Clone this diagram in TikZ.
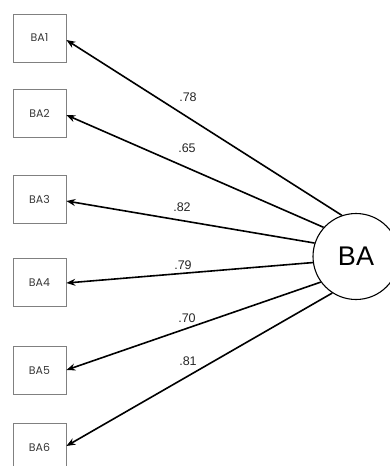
\documentclass[tikz,border=0pt]{standalone}
\usepackage{fontspec}
\setmainfont{Liberation Sans}
\newfontfamily\boxfont{Poppins}
\usetikzlibrary{arrows.meta}
\begin{document}
\begin{tikzpicture}[x=1pt,y=-1pt,
  itembox/.style={draw=black!50,line width=0.8pt,minimum width=53pt,minimum height=48pt,
    inner sep=0pt,font=\boxfont\fontsize{11}{13}\selectfont,text=black!78},
  factor/.style={circle,draw,line width=1.1pt,minimum size=86pt,inner sep=0pt,
    font=\fontsize{27}{30}\selectfont},
  load/.style={-{Stealth[length=9pt,width=7pt]},line width=1.6pt},
  coef/.style={font=\fontsize{12.5}{14}\selectfont,text=black!85}]
\useasboundingbox (0,0) rectangle (390,466);
\begin{scope}
\clip (0,0) rectangle (390,466);
\node[itembox] (b1) at (39.5,38) {BA1};
\node[itembox] (b2) at (39.5,113.5) {BA2};
\node[itembox] (b3) at (39.5,199.5) {BA3};
\node[itembox] (b4) at (39.5,282.5) {BA4};
\node[itembox] (b5) at (39.5,370.5) {BA5};
\node[itembox] (b6) at (39.5,447) {BA6};
\node[factor] (ba) at (356,256.5) {BA};
\end{scope}
\draw[load] (ba.109) -- (b1.east |- 0,40);
\draw[load] (ba.138) -- (b2.east |- 0,115);
\draw[load] (ba.162) -- (b3.east |- 0,201);
\draw[load] (ba.188) -- (b4.east |- 0,283);
\draw[load] (ba.216) -- (b5.east |- 0,370);
\draw[load] (ba.237) -- (b6.east |- 0,446);
\node[coef] (l1) at (188,97) {.78};
\node[coef] (l2) at (187,148) {.65};
\node[coef] (l3) at (182,207) {.82};
\node[coef] (l4) at (183,265) {.79};
\node[coef] (l5) at (187,318) {.70};
\node[coef] (l6) at (188,361) {.81};
\end{tikzpicture}
\end{document}
